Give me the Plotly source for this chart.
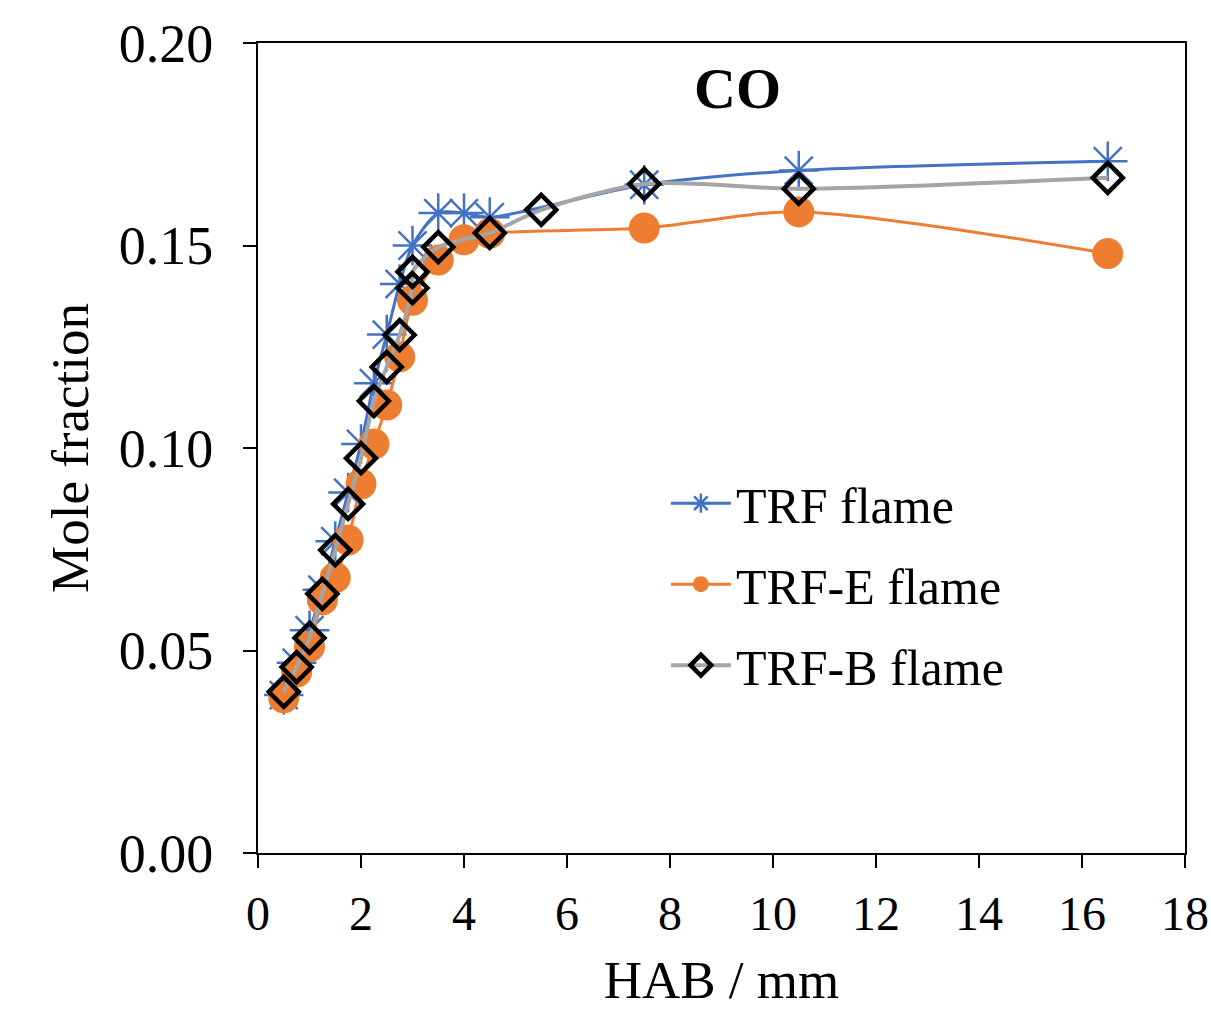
import plotly.graph_objects as go

# HAB positions (mm)
hab_trf = [0.5, 0.75, 1.0, 1.25, 1.5, 1.75, 2.0, 2.25, 2.5, 2.75, 3.0, 3.5, 4.0, 4.5, 7.5, 10.5, 16.5]
co_trf = [0.039, 0.047, 0.055, 0.065, 0.077, 0.089, 0.101, 0.116, 0.128, 0.1405, 0.150, 0.158, 0.158, 0.157, 0.165, 0.1685, 0.1708]

hab_trfe = [0.5, 0.75, 1.0, 1.25, 1.5, 1.75, 2.0, 2.25, 2.5, 2.75, 3.0, 3.5, 4.0, 4.5, 7.5, 10.5, 16.5]
co_trfe = [0.0383, 0.0447, 0.0509, 0.0625, 0.068, 0.0773, 0.0911, 0.101, 0.1106, 0.1225, 0.1365, 0.1464, 0.1514, 0.153, 0.1543, 0.1583, 0.148]

hab_trfb = [0.5, 0.75, 1.0, 1.25, 1.5, 1.75, 2.0, 2.25, 2.5, 2.75, 3.0, 3.0, 3.5, 4.5, 5.5, 7.5, 10.5, 16.5]
co_trfb = [0.0398, 0.0459, 0.0531, 0.064, 0.0748, 0.0862, 0.0975, 0.1116, 0.120, 0.1279, 0.1395, 0.1435, 0.1496, 0.1531, 0.1588, 0.1652, 0.164, 0.1667]

x_ticks = [0, 2, 4, 6, 8, 10, 12, 14, 16, 18]
y_ticks = [0.00, 0.05, 0.10, 0.15, 0.20]

FONT = "Liberation Serif, Times New Roman, serif"

fig = go.Figure()
fig.add_trace(go.Scatter(
    x=hab_trf, y=co_trf, name="TRF flame", mode="lines+markers", legendgroup="a",
    line=dict(color="#4472C4", width=3, shape="spline", smoothing=0.8),
    marker=dict(symbol="asterisk-open", size=33, color="#4472C4",
                line=dict(color="#4472C4", width=2.5)),
))
fig.add_trace(go.Scatter(
    x=hab_trfe, y=co_trfe, name="TRF-E flame", mode="lines+markers", legendgroup="b",
    line=dict(color="#ED7D31", width=3, shape="spline", smoothing=0.8),
    marker=dict(symbol="circle", size=31, color="#ED7D31", line=dict(width=0)),
))
fig.add_trace(go.Scatter(
    x=hab_trfb, y=co_trfb, name="TRF-B flame", mode="lines+markers", legendgroup="c",
    line=dict(color="#A5A5A5", width=4, shape="spline", smoothing=0.8),
    marker=dict(symbol="diamond-open", size=23, color="black",
                line=dict(color="black", width=4.5)),
))

fig.update_layout(
    width=1211, height=1009,
    margin=dict(l=258, r=26, t=43, b=156),
    paper_bgcolor="white", plot_bgcolor="white",
    font=dict(family=FONT, color="black", size=48),
    showlegend=True,
    legend=dict(x=0.44, y=0.48, xanchor="left", yanchor="top",
                bgcolor="rgba(0,0,0,0)", font=dict(size=50, family=FONT),
                tracegroupgap=13, itemwidth=60),
    annotations=[dict(text="<b>CO</b>", x=0.517, y=0.944, xref="paper", yref="paper",
                      xanchor="center", yanchor="middle",
                      showarrow=False, font=dict(size=58, family=FONT, color="black"))],
)
fig.update_xaxes(
    range=[0, 18], tickvals=x_ticks, ticktext=[str(v) for v in x_ticks],
    showgrid=False, zeroline=False, automargin=False,
    showline=True, linecolor="black", linewidth=2, mirror=True,
    ticks="outside", ticklen=13, tickwidth=2, tickcolor="black",
    tickfont=dict(size=48, family=FONT), ticklabelstandoff=4,
    title=dict(text="HAB / mm", font=dict(size=53, family=FONT), standoff=30),
)
fig.update_yaxes(
    range=[0, 0.2], tickvals=y_ticks, ticktext=[f"{v:.2f}" for v in y_ticks],
    showgrid=False, zeroline=False, automargin=False,
    showline=True, linecolor="black", linewidth=2, mirror=True,
    ticks="outside", ticklen=13, tickwidth=2, tickcolor="black",
    tickfont=dict(size=54, family=FONT), ticklabelstandoff=19,
    title=dict(text="Mole fraction", font=dict(size=53, family=FONT), standoff=13),
)

fig.write_html(
    "out.html",
    config={"displayModeBar": False},
    post_script="document.body.style.margin='0';document.body.style.overflow='hidden';",
)
